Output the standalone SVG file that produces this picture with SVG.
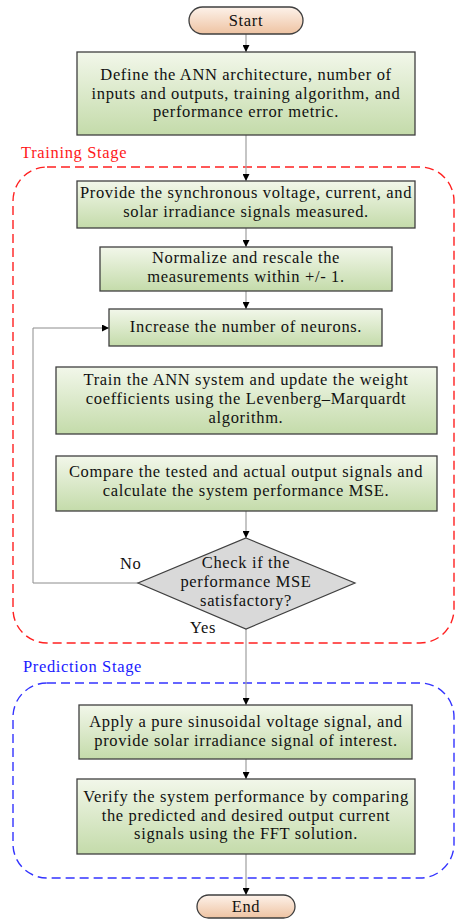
<svg xmlns="http://www.w3.org/2000/svg" width="455" height="920" viewBox="0 0 455 920">
<defs>
<linearGradient id="gG" x1="0" y1="0" x2="0" y2="1"><stop offset="0" stop-color="#f2f7ea"/><stop offset="1" stop-color="#c4dbaa"/></linearGradient>
<linearGradient id="gP" x1="0" y1="0" x2="0" y2="1"><stop offset="0" stop-color="#fdf2ea"/><stop offset="1" stop-color="#eec3a2"/></linearGradient>
<marker id="ah" markerWidth="8" markerHeight="7" refX="7" refY="3.5" orient="auto" markerUnits="userSpaceOnUse"><path d="M0,0 L7,3.5 L0,7 Z" fill="#000"/></marker>
</defs>
<style>
.box{fill:url(#gG);stroke:#3f3f3f;stroke-width:1.3}
.term{fill:url(#gP);stroke:#3f3f3f;stroke-width:1.3}
.dia{fill:#d9d9d9;stroke:#3f3f3f;stroke-width:1.2}
text{font-family:"Liberation Serif","Times New Roman",serif;font-size:16.5px;letter-spacing:0.65px}
.t{fill:#111;text-anchor:middle}
.l{fill:#111}
.c{fill:none;stroke:#a6a6a6;stroke-width:1.3}
.cd{fill:none;stroke:#8c8c8c;stroke-width:1}
</style>
<g id="stages">
<rect x="13" y="167" width="441" height="476" rx="34" fill="none" stroke="#ff2020" stroke-width="1.4" stroke-dasharray="9,5"/>
<text x="21" y="158" fill="#ff1a1a">Training Stage</text>
<rect x="13" y="683" width="441" height="195" rx="34" fill="none" stroke="#3333ff" stroke-width="1.4" stroke-dasharray="9,5"/>
<text x="23" y="672" fill="#1a1aff">Prediction Stage</text>
</g>
<g id="connectors">
<line class="c" x1="246" y1="34" x2="246" y2="52" marker-end="url(#ah)"/>
<line class="c" x1="246" y1="135" x2="246" y2="181" marker-end="url(#ah)"/>
<line class="c" x1="246" y1="228" x2="246" y2="247" marker-end="url(#ah)"/>
<line class="c" x1="246" y1="291" x2="246" y2="309" marker-end="url(#ah)"/>
<line class="c" x1="246" y1="511" x2="246" y2="538" marker-end="url(#ah)"/>
<polyline class="cd" points="138,583 33,583 33,328 109,328" marker-end="url(#ah)"/>
<line class="c" x1="246" y1="629" x2="246" y2="705" marker-end="url(#ah)"/>
<line class="c" x1="246" y1="759" x2="246" y2="779" marker-end="url(#ah)"/>
<line class="c" x1="246" y1="854" x2="246" y2="895" marker-end="url(#ah)"/>
<text class="l" x="120" y="569">No</text>
<text class="l" x="190" y="633">Yes</text>
</g>
<g id="start"><rect class="term" x="189" y="7" width="114" height="27" rx="13.5"/><text class="t" x="246" y="26">Start</text></g>
<g id="define"><rect class="box" x="77" y="52" width="338" height="83"/>
<text class="t" x="246" y="80">Define the ANN architecture, number of</text>
<text class="t" x="246" y="98.5">inputs and outputs, training algorithm, and</text>
<text class="t" x="246" y="117">performance error metric.</text></g>
<g id="provide"><rect class="box" x="77" y="181" width="338" height="47"/>
<text class="t" x="246" y="198">Provide the synchronous voltage, current, and</text>
<text class="t" x="246" y="217">solar irradiance signals measured.</text></g>
<g id="normalize"><rect class="box" x="100" y="247" width="292" height="44"/>
<text class="t" x="246" y="263">Normalize and rescale the</text>
<text class="t" x="246" y="282">measurements within +/- 1.</text></g>
<g id="increase"><rect class="box" x="109" y="309" width="273" height="37"/>
<text class="t" x="246" y="332">Increase the number of neurons.</text></g>
<g id="train"><rect class="box" x="56" y="367" width="381" height="67"/>
<text class="t" x="246" y="385">Train the ANN system and update the weight</text>
<text class="t" x="246" y="404">coefficients using  the Levenberg–Marquardt</text>
<text class="t" x="246" y="423">algorithm.</text></g>
<g id="compare"><rect class="box" x="56" y="456" width="381" height="55"/>
<text class="t" x="246" y="477">Compare the tested and actual output signals and</text>
<text class="t" x="246" y="496">calculate the system performance MSE.</text></g>
<g id="check"><polygon class="dia" points="246,538 355,583 246,629 138,583"/>
<text class="t" x="246" y="568">Check if the</text>
<text class="t" x="246" y="587">performance MSE</text>
<text class="t" x="246" y="606">satisfactory?</text></g>
<g id="apply"><rect class="box" x="79" y="705" width="333" height="54"/>
<text class="t" x="246" y="727">Apply a pure sinusoidal voltage signal, and</text>
<text class="t" x="246" y="746">provide solar irradiance signal of interest.</text></g>
<g id="verify"><rect class="box" x="77" y="779" width="338" height="75"/>
<text class="t" x="246" y="802">Verify the system performance by comparing</text>
<text class="t" x="246" y="821">the predicted and desired output current</text>
<text class="t" x="246" y="839">signals using the FFT solution.</text></g>
<g id="end"><rect class="term" x="197" y="895" width="98" height="23" rx="11.5"/><text class="t" x="246" y="912">End</text></g>
</svg>
